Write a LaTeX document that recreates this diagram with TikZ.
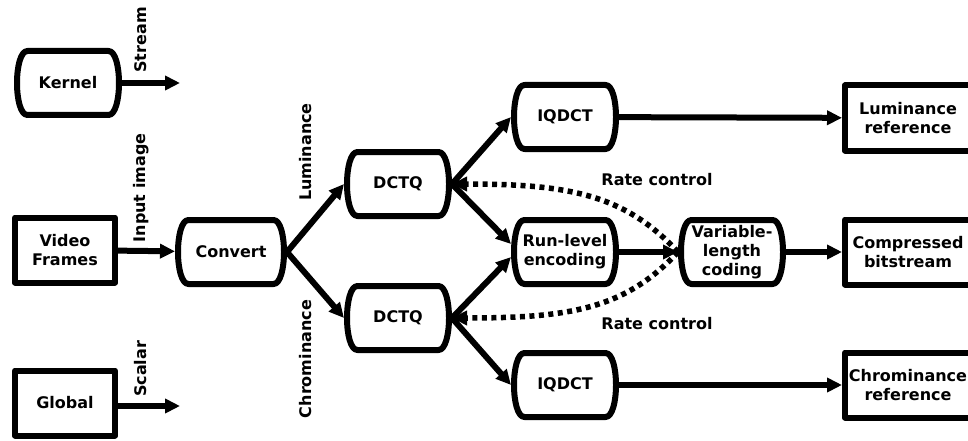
\documentclass[tikz,border=0pt]{standalone}
\usepackage{fontspec}
\setmainfont{DejaVu Sans}
\usepackage{tikz}
\usetikzlibrary{positioning,arrows.meta}

\tikzset{
  kernelbox/.style={rectangle, minimum width=99pt, minimum height=64pt, align=center,
    inner sep=0pt, outer xsep=4.5pt, outer ysep=0pt},
  streambox/.style={draw, rectangle, minimum width=100pt, minimum height=65pt, align=center},
  refbox/.style={streambox, minimum width=126pt},
  flow/.style={-{Triangle[length=15pt,width=14pt]}},
  ratectl/.style={flow, line width=5.5pt, dash pattern=on 5pt off 4.5pt},
  vlabel/.style={rotate=90, inner sep=0pt}
}

\begin{document}
\begin{tikzpicture}[x=1pt, y=-1pt, line width=6pt, line join=round,
    font=\bfseries\fontsize{16}{19}\selectfont]
        \useasboundingbox (0,0) rectangle (968,441);

        % Inputs
        \node[kernelbox] (kernel) at (68,83) {Kernel};
        \node[streambox] (frames) at (65,250) {Video\\Frames};
        \node[streambox] (global) at (65,403) {Global};
        \coordinate (streamout) at (180,83);
        \coordinate (scalarout) at (180,406);

        % Kernels
        \node[kernelbox, minimum width=103pt] (convert) at (231,252) {Convert};
        \node[kernelbox] (dctqlum) at (398,184) {DCTQ};
        \node[kernelbox] (dctqchr) at (398,318) {DCTQ};
        \node[kernelbox] (iqdctlum) at (565,117) {IQDCT};
        \node[kernelbox] (runlevel) at (565,252) {Run-level\\encoding};
        \node[kernelbox] (iqdctchr) at (565,385) {IQDCT};
        \node[kernelbox] (vlc) at (732,252) {Variable-\\length\\coding};

        % Kernel outlines
        \foreach \k in {kernel,convert,dctqlum,dctqchr,iqdctlum,runlevel,iqdctchr,vlc}
          \draw ([xshift=13.5pt]\k.north west) -- ([xshift=-13.5pt]\k.north east)
            .. controls ([xshift=0.5pt]\k.north east) and ([xshift=0.5pt]\k.south east) .. ([xshift=-13.5pt]\k.south east)
            -- ([xshift=13.5pt]\k.south west)
            .. controls ([xshift=-0.5pt]\k.south west) and ([xshift=-0.5pt]\k.north west) .. cycle;

        % Outputs
        \node[refbox] (lumref) at (908,118) {Luminance\\reference};
        \node[refbox] (bitstream) at (908,252) {Compressed\\bitstream};
        \node[refbox] (chrref) at (908,385) {Chrominance\\reference};

        % Stream labels
        \node[vlabel] (streamlbl) at (141,40) {Stream};
        \node[vlabel] (inputlbl) at (141,188) {Input image};
        \node[vlabel] (scalarlbl) at (141,369) {Scalar};
        \node[vlabel] (lumlbl) at (306,152) {Luminance};
        \node[vlabel] (chrlbl) at (306,359) {Chrominance};
        \node (ratelum) at (657,180) {Rate control};
        \node (ratechr) at (657,324) {Rate control};

        % Arrows
        \draw[flow] (kernel.east) -- (streamout);
        \draw[flow] (global.east |- scalarout) -- (scalarout);
        \draw[flow] (frames) -- (convert);
        \draw[flow] (convert.east) -- (dctqlum.west);
        \draw[flow] (convert.east) -- (dctqchr.west);
        \draw[flow] (dctqlum.east) -- (iqdctlum.west);
        \draw[flow] (dctqlum.east) -- ([yshift=8pt]runlevel.west);
        \draw[flow] (dctqchr.east) -- ([yshift=-5pt]runlevel.west);
        \draw[flow] (dctqchr.east) -- (iqdctchr.west);
        \draw[flow] (runlevel) -- (vlc);
        \draw[flow] (iqdctlum) -- (lumref);
        \draw[flow] (vlc) -- (bitstream);
        \draw[flow] (iqdctchr) -- (chrref);

        % Rate control
        \draw[ratectl] (vlc.west) .. controls (625,195) and (570,184) .. (dctqlum.east);
        \draw[ratectl] (vlc.west) .. controls (625,309) and (570,318) .. (dctqchr.east);
    \end{tikzpicture}
\end{document}
